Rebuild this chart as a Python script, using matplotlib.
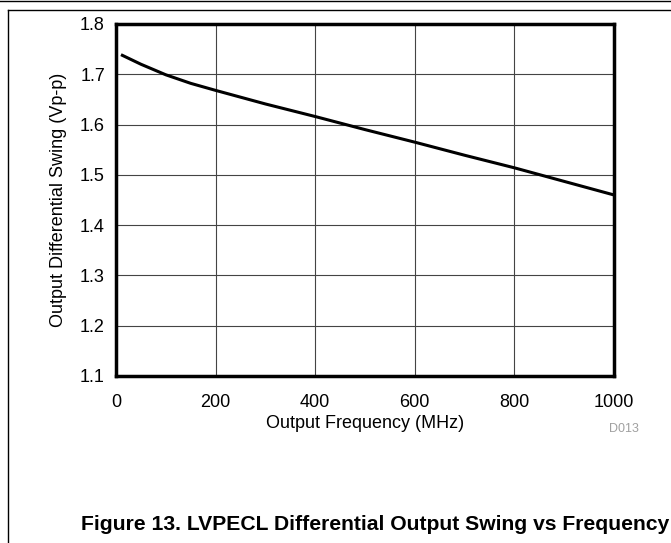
import matplotlib.pyplot as plt
from matplotlib.lines import Line2D

# data
freq_mhz = [10, 50, 100, 150, 200, 300, 400, 500, 600, 700, 800, 900, 1000]
swing_vpp = [1.739, 1.720, 1.699, 1.682, 1.668, 1.641, 1.616, 1.590, 1.565, 1.539, 1.514, 1.487, 1.460]
x_ticks = [0, 200, 400, 600, 800, 1000]
y_ticks = [1.1, 1.2, 1.3, 1.4, 1.5, 1.6, 1.7, 1.8]

plt.rcParams['font.family'] = ['Liberation Sans', 'DejaVu Sans']

fig = plt.figure(figsize=(6.71, 5.43), dpi=100)
W, H = 671, 543
ax = fig.add_axes([116 / W, 1 - 376 / H, (614 - 116) / W, (376 - 24) / H])

ax.plot(freq_mhz, swing_vpp, color='black', lw=2.2, solid_capstyle='butt')

ax.set_xlim(0, 1000)
ax.set_ylim(1.1, 1.8)
ax.set_xticks(x_ticks)
ax.set_yticks(y_ticks)
ax.set_yticklabels([f"{v:.1f}" for v in y_ticks])
ax.tick_params(axis='y', length=0, labelsize=13, pad=8)
ax.tick_params(axis='x', length=0, labelsize=13, pad=13)
ax.grid(True, color='#444444', lw=0.8)
ax.set_axisbelow(True)
for s in ax.spines.values():
    s.set_linewidth(2.5)

ax.set_xlabel('Output Frequency (MHz)', fontsize=13, labelpad=3)
ax.set_ylabel('Output Differential Swing (Vp-p)', fontsize=13, labelpad=9)

fig.text(609 / W, 1 - 429 / H, 'D013', fontsize=9, color='#a0a0a0', ha='left', va='center')
fig.text(669 / W, 1 - 525 / H, 'Figure 13. LVPECL Differential Output Swing vs Frequency',
         fontsize=15.2, fontweight='bold', ha='right', va='center')

# page frame lines
fig.add_artist(Line2D([0, 1], [1 - 0.5 / H, 1 - 0.5 / H], transform=fig.transFigure, color='black', lw=1))
fig.add_artist(Line2D([8 / W, 1], [1 - 10 / H, 1 - 10 / H], transform=fig.transFigure, color='black', lw=1))
fig.add_artist(Line2D([8 / W, 8 / W], [1 - 10 / H, 0], transform=fig.transFigure, color='black', lw=1))

fig.savefig('out.png', dpi=100)
